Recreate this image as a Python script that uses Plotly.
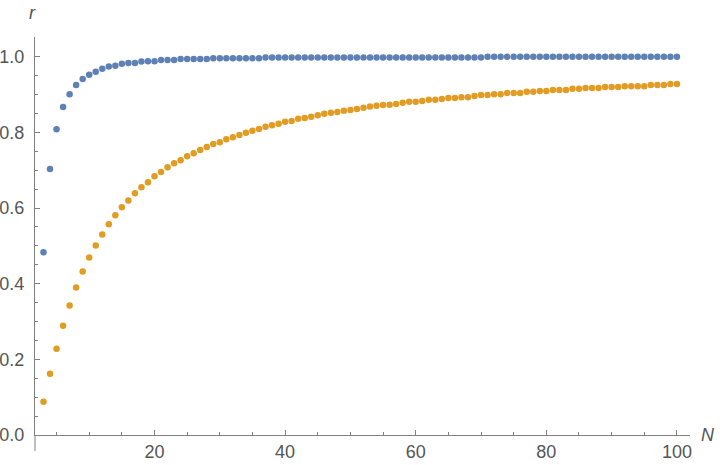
import plotly.graph_objects as go

# N values (categories along x)
N_values = list(range(3, 101))

# series
blue_r = [0.483, 0.703, 0.808, 0.867, 0.901, 0.925, 0.941, 0.952, 0.960, 0.968,
          0.974, 0.976, 0.981, 0.983, 0.983, 0.987, 0.988, 0.988, 0.991, 0.991,
          0.991, 0.994, 0.994, 0.994, 0.994, 0.994,
          0.996, 0.996, 0.996, 0.996, 0.996, 0.996, 0.996, 0.996,
          0.998, 0.998, 0.998, 0.998, 0.998, 0.998, 0.998, 0.998, 0.998, 0.998,
          0.998, 0.998, 0.998, 0.998, 0.998, 0.998, 0.998, 0.998, 0.998, 0.998,
          0.998, 0.998, 0.998, 0.998, 0.998, 0.998, 0.998, 0.998, 0.998, 0.998,
          0.998, 0.998, 0.998, 0.998,
          0.9995, 0.9995, 0.9995, 0.9995, 0.9995, 0.9995, 0.9995, 0.9995, 0.9995, 0.9995,
          0.9995, 0.9995, 0.9995, 0.9995, 0.9995, 0.9995, 0.9995, 0.9995, 0.9995, 0.9995,
          0.9995, 0.9995, 0.9995, 0.9995, 0.9995, 0.9995, 0.9995, 0.9995, 0.9995, 0.9995]

orange_r = [0.088, 0.162, 0.228, 0.289, 0.342, 0.390, 0.432, 0.469, 0.501, 0.530,
            0.557, 0.581, 0.602, 0.620, 0.639, 0.655, 0.668, 0.684, 0.695, 0.708,
            0.718, 0.726, 0.737, 0.745, 0.753,
            0.761, 0.769, 0.774, 0.782, 0.787, 0.793, 0.799, 0.804, 0.809, 0.815,
            0.819, 0.823, 0.828, 0.830, 0.836, 0.838, 0.841, 0.845, 0.849, 0.852,
            0.854, 0.857, 0.859, 0.862, 0.865, 0.868, 0.870, 0.872, 0.873, 0.875,
            0.878, 0.881, 0.881, 0.883, 0.886, 0.886,
            0.888, 0.891, 0.891, 0.893, 0.893, 0.896, 0.899, 0.899, 0.901, 0.901,
            0.904, 0.904, 0.904, 0.907, 0.907, 0.909, 0.909, 0.912, 0.912, 0.912,
            0.915, 0.915, 0.917, 0.917, 0.917, 0.920, 0.920, 0.920, 0.922, 0.922,
            0.922, 0.922, 0.925, 0.925, 0.925, 0.928, 0.928]

x_tick_vals = [20, 40, 60, 80, 100]
y_tick_vals = [0.0, 0.2, 0.4, 0.6, 0.8, 1.0]

BLUE = "#5E81B5"
ORANGE = "#E19C24"
AXIS = "#808080"
TEXT = "#555555"
FONT = "Liberation Sans, Arial, sans-serif"

fig = go.Figure()
fig.add_trace(go.Scatter(x=N_values, y=blue_r, mode="markers",
                         marker=dict(color=BLUE, size=6.5), showlegend=False))
fig.add_trace(go.Scatter(x=N_values, y=orange_r, mode="markers",
                         marker=dict(color=ORANGE, size=6.5), showlegend=False))

fig.update_layout(
    width=720, height=465,
    margin=dict(l=35, r=30, t=37, b=30, autoexpand=False),
    paper_bgcolor="white", plot_bgcolor="white",
    font=dict(family=FONT, size=18, color=TEXT),
    xaxis=dict(range=[1.7, 102.0], showgrid=False, zeroline=False,
               automargin=False,
               showline=True, linecolor=AXIS, linewidth=1,
               tickmode="array", tickvals=x_tick_vals,
               ticks="inside", ticklen=5, tickcolor=AXIS, tickwidth=1,
               ticklabelstandoff=0,
               tickfont=dict(family=FONT, size=18, color=TEXT),
               minor=dict(dtick=5, tick0=0, ticks="inside", ticklen=3,
                          tickcolor=AXIS, showgrid=False)),
    yaxis=dict(range=[0, 1.052], showgrid=False, zeroline=False,
               automargin=False,
               showline=True, linecolor=AXIS, linewidth=1,
               tickmode="array", tickvals=y_tick_vals, tickformat=".1f",
               ticks="inside", ticklen=5, tickcolor=AXIS, tickwidth=1,
               ticklabelstandoff=6,
               tickfont=dict(family=FONT, size=18, color=TEXT),
               minor=dict(dtick=0.05, tick0=0, ticks="inside", ticklen=3,
                          tickcolor=AXIS, showgrid=False)),
    shapes=[dict(type="line", xref="paper", yref="paper",
                 x0=0, x1=0, y0=0, y1=-0.04,
                 line=dict(color=AXIS, width=1))],
    annotations=[
        dict(text="<i>r</i>", xref="paper", yref="paper", x=-0.0035, y=1.061,
             xanchor="center", yanchor="middle", showarrow=False,
             font=dict(family=FONT, size=18, color=TEXT)),
        dict(text="<i>N</i>", xref="paper", yref="paper", x=1.0275, y=0.0,
             xanchor="center", yanchor="middle", showarrow=False,
             font=dict(family=FONT, size=18, color=TEXT)),
    ],
)

fig.write_html("out.html",
               config={"displayModeBar": False},
               post_script="document.body.style.margin='0';document.body.style.overflow='hidden';")
